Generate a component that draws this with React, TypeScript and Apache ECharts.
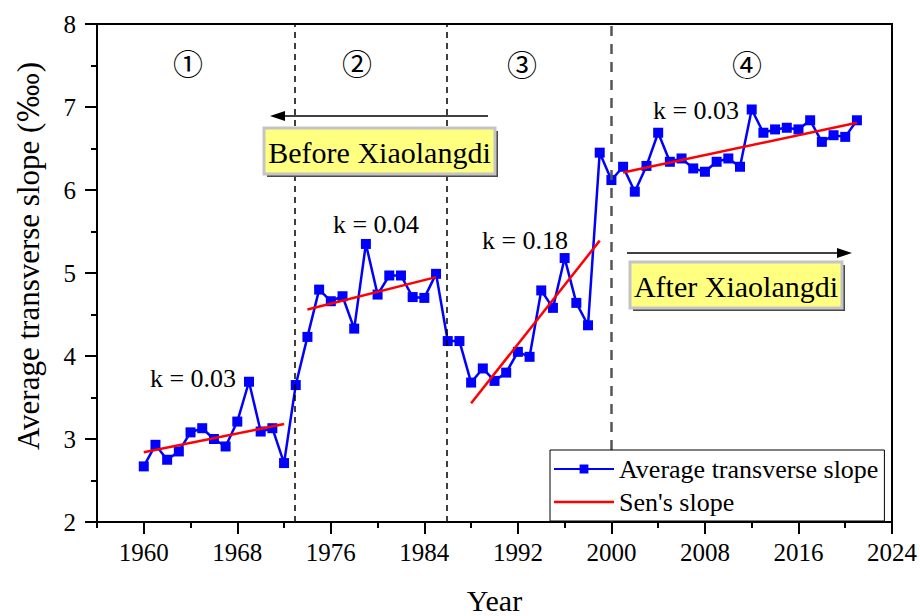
import React, { useEffect, useRef } from 'react';
import * as echarts from 'echarts';

// Yearly average transverse slope of the channel
const years = [
  1960, 1961, 1962, 1963, 1964, 1965, 1966, 1967, 1968, 1969,
  1970, 1971, 1972, 1973, 1974, 1975, 1976, 1977, 1978, 1979,
  1980, 1981, 1982, 1983, 1984, 1985, 1986, 1987, 1988, 1989,
  1990, 1991, 1992, 1993, 1994, 1995, 1996, 1997, 1998, 1999,
  2000, 2001, 2002, 2003, 2004, 2005, 2006, 2007, 2008, 2009,
  2010, 2011, 2012, 2013, 2014, 2015, 2016, 2017, 2018, 2019,
  2020, 2021,
];
const slopeValues = [
  2.67, 2.93, 2.75, 2.85, 3.08, 3.13, 3.0, 2.91, 3.21, 3.69,
  3.09, 3.13, 2.71, 3.65, 4.23, 4.8, 4.66, 4.72, 4.33, 5.35,
  4.74, 4.97, 4.97, 4.71, 4.7, 4.99, 4.18, 4.18, 3.68, 3.85,
  3.7, 3.8, 4.05, 3.99, 4.79, 4.58, 5.18, 4.64, 4.37, 6.45,
  6.12, 6.28, 5.98, 6.29, 6.69, 6.34, 6.38, 6.26, 6.22, 6.34,
  6.38, 6.28, 6.97, 6.69, 6.73, 6.75, 6.73, 6.84, 6.58, 6.66,
  6.64, 6.84,
];

// Sen's slope trend segments, one per period
const senStartYear = [1960, 1974, 1988, 2001];
const senEndYear = [1972, 1985, 1999, 2021];
const senStartValue = [2.84, 4.56, 3.43, 6.21];
const senEndValue = [3.18, 4.95, 5.39, 6.81];
const senLabels = ['k = 0.03', 'k = 0.04', 'k = 0.18', 'k = 0.03'];

// Period boundaries and period numbers
const periodBreaks = [1972.9, 1985.9, 2000];
const periodMarks = ['①', '②', '③', '④'];

// Axis ticks
const xLabelYears = [1960, 1968, 1976, 1984, 1992, 2000, 2008, 2016, 2024];
const xMinorYears = [1956, 1964, 1972, 1980, 1988, 1996, 2004, 2012, 2020];

const SERIF = 'Liberation Serif';
const CIRCLED = 'Noto Sans CJK SC';

const SERIES_NAME = 'Average transverse slope';
const SEN_NAME = "Sen's slope";
const Y_TITLE_MAIN = 'Average transverse slope (';
const Y_TITLE_UNIT = '‱';

// Thin horizontal bar inside a 60x11 box (corner specks keep the bar thin when scaled)
const SEN_ICON = 'path://M0,0h0.01v0.01h-0.01z M0,4.3h60v2.4h-60z M59.99,10.99h0.01v0.01h-0.01z';

function buildOption(): echarts.EChartsOption {
  const markPos = [
    [188, 62],
    [357, 62],
    [522, 63],
    [747, 63],
  ];
  const kPos = [
    [193, 378],
    [376, 224],
    [525, 240],
    [696, 110],
  ];

  const breakStyles = [
    { color: '#000', width: 1.5, type: [6, 5] },
    { color: '#000', width: 1.5, type: [6, 5] },
    { color: '#555', width: 2.5, type: [10, 8] },
  ];

  const senSeries = senStartYear.map((start, i) => ({
    name: SEN_NAME,
    type: 'line' as const,
    symbol: 'none',
    data: [
      [start, senStartValue[i]],
      [senEndYear[i], senEndValue[i]],
    ],
    lineStyle: { color: '#ff0000', width: 2.5 },
    itemStyle: { color: '#ff0000' },
    z: 4,
  }));

  const label = (text: string, x: number, y: number, size: number, family = SERIF) => ({
    type: 'text' as const,
    x,
    y,
    style: {
      text,
      font: `${size}px "${family}", serif`,
      fill: '#000',
      align: 'center' as const,
      verticalAlign: 'middle' as const,
    },
    z: 10,
  });

  const noteBox = (text: string, x0: number, y0: number, w: number, h: number) => ({
    type: 'group' as const,
    children: [
      {
        type: 'rect' as const,
        shape: { x: x0 + 3, y: y0 + 3, width: w, height: h },
        style: { fill: '#4a4a4a' },
        z: 9,
      },
      {
        type: 'rect' as const,
        shape: { x: x0, y: y0, width: w, height: h },
        style: { fill: '#ffff80', stroke: '#c4c4c4', lineWidth: 3 },
        z: 9,
      },
      label(text, x0 + w / 2, y0 + h / 2 + 1, 30),
    ],
  });

  const yearText = (v: number) => String(v);

  return {
    animation: false,
    backgroundColor: '#fff',
    textStyle: { fontFamily: SERIF, color: '#000' },
    grid: {
      left: 97,
      right: 29,
      top: 24,
      bottom: 94,
      outerBoundsMode: 'none',
      show: true,
      borderColor: '#000',
      borderWidth: 2,
      backgroundColor: 'transparent',
    },
    legend: {
      data: [{ name: SERIES_NAME }, { name: SEN_NAME, icon: SEN_ICON }],
      orient: 'vertical',
      left: 550,
      top: 450,
      itemWidth: 60,
      itemHeight: 11,
      itemGap: 3,
      padding: [4, 6, 4, 3],
      borderColor: '#000',
      borderWidth: 1,
      backgroundColor: '#fff',
      textStyle: { fontSize: 26, fontFamily: SERIF, color: '#000', lineHeight: 30 },
      z: 20,
    },
    xAxis: [
      {
        type: 'value',
        min: 1956,
        max: 2024,
        axisLine: { show: true, lineStyle: { color: '#000', width: 2 } },
        axisTick: {
          show: true,
          inside: false,
          length: 12,
          lineStyle: { color: '#000', width: 2 },
          customValues: xLabelYears,
        },
        axisLabel: {
          customValues: xLabelYears,
          formatter: yearText,
          fontSize: 25,
          fontFamily: SERIF,
          color: '#000',
          margin: 18,
        },
        splitLine: { show: false },
        name: 'Year',
        nameLocation: 'middle',
        nameGap: 63,
        nameTextStyle: { fontSize: 30, fontFamily: SERIF, color: '#000' },
      },
      {
        type: 'value',
        min: 1956,
        max: 2024,
        position: 'bottom',
        axisLine: { show: false },
        axisTick: {
          show: true,
          inside: false,
          length: 6,
          lineStyle: { color: '#000', width: 2 },
          customValues: xMinorYears,
        },
        axisLabel: { show: false },
        splitLine: { show: false },
      },
    ],
    yAxis: {
      type: 'value',
      min: 2,
      max: 8,
      interval: 1,
      axisLine: { show: true, lineStyle: { color: '#000', width: 2 } },
      axisTick: { show: true, inside: false, length: 12, lineStyle: { color: '#000', width: 2 } },
      minorTick: { show: true, splitNumber: 2, length: 6, lineStyle: { color: '#000', width: 2 } },
      axisLabel: { fontSize: 25, fontFamily: SERIF, color: '#000', margin: 21 },
      splitLine: { show: false },
      minorSplitLine: { show: false },
      name: `{t|${Y_TITLE_MAIN}}{u|${Y_TITLE_UNIT}}{t|)}`,
      nameLocation: 'middle',
      nameGap: 53,
      nameTextStyle: {
        fontSize: 31,
        fontFamily: SERIF,
        color: '#000',
        padding: [0, 0, 0, 34],
        rich: {
          t: { fontSize: 31, fontFamily: SERIF, color: '#000' },
          u: { fontSize: 29, fontFamily: 'DejaVu Serif', color: '#000' },
        },
      },
    },
    series: [
      {
        name: SERIES_NAME,
        type: 'line',
        data: years.map((y, i) => [y, slopeValues[i]]),
        symbol: 'rect',
        symbolSize: 10,
        lineStyle: { color: '#0000ff', width: 2.5 },
        itemStyle: { color: '#0000ff' },
        z: 3,
        markLine: {
          silent: true,
          symbol: ['none', 'none'],
          label: { show: false },
          data: periodBreaks.map((x, i) => ({ xAxis: x, lineStyle: breakStyles[i] })),
        },
      },
      ...senSeries,
    ],
    graphic: [
      ...periodMarks.map((m, i) => label(m, markPos[i][0], markPos[i][1], 30, CIRCLED)),
      ...senLabels.map((k, i) => label(k, kPos[i][0], kPos[i][1], 26)),
      // Arrow pointing back to the pre-dam years
      {
        type: 'line',
        shape: { x1: 282, y1: 116, x2: 488, y2: 116 },
        style: { stroke: '#000', lineWidth: 1.5 },
        z: 8,
      },
      {
        type: 'polygon',
        shape: { points: [[270, 116], [285, 111], [285, 121]] },
        style: { fill: '#000' },
        z: 8,
      },
      noteBox('Before Xiaolangdi', 264, 128, 231, 46),
      // Arrow pointing forward to the post-dam years
      {
        type: 'line',
        shape: { x1: 627, y1: 253, x2: 840, y2: 253 },
        style: { stroke: '#000', lineWidth: 1.5 },
        z: 8,
      },
      {
        type: 'polygon',
        shape: { points: [[852, 253], [837, 248], [837, 258]] },
        style: { fill: '#000' },
        z: 8,
      },
      noteBox('After Xiaolangdi', 630, 262, 212, 46),
    ],
  } as echarts.EChartsOption;
}

export default function App() {
  const ref = useRef<HTMLDivElement>(null);

  useEffect(() => {
    document.body.style.margin = '0';
    if (!ref.current) return;
    const chart = echarts.init(ref.current, null, { renderer: 'svg' });
    chart.setOption(buildOption());
    return () => chart.dispose();
  }, []);

  return <div ref={ref} style={{ width: 921, height: 616 }} />;
}
